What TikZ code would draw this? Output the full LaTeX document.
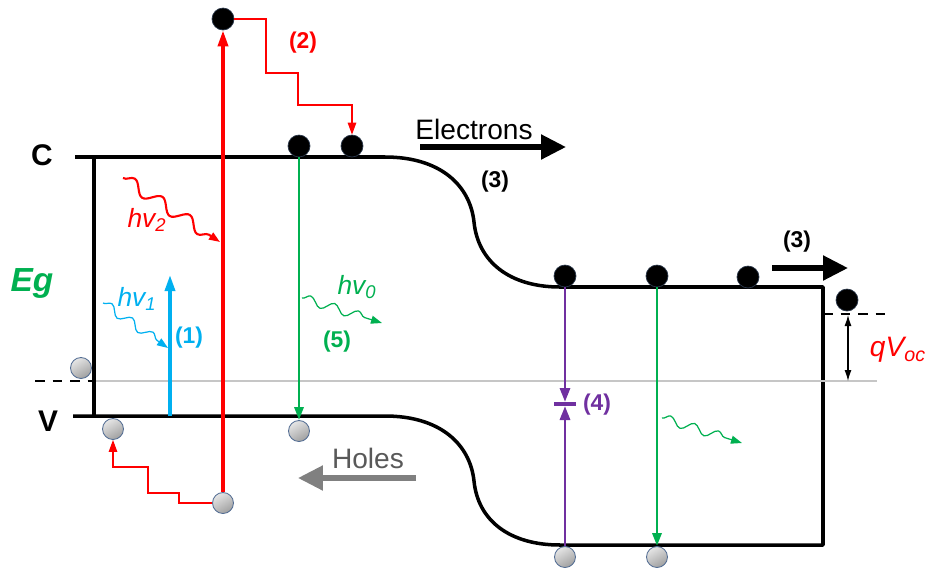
\documentclass[tikz,border=0pt]{standalone}
\usepackage{fontspec}
\setmainfont{Liberation Sans}
\usetikzlibrary{arrows.meta,decorations.pathmorphing}
\definecolor{pvred}{RGB}{255,0,0}
\definecolor{pvblue}{RGB}{0,176,240}
\definecolor{pvgreen}{RGB}{0,176,80}
\definecolor{pvpurple}{RGB}{112,48,160}
\definecolor{pvrim}{RGB}{84,110,148}
\begin{document}
\begin{tikzpicture}[x=0.02cm,y=-0.02cm,>=Latex,
  el/.style={circle,fill=black,draw=pvrim!50!black,line width=0.4pt,minimum size=0.44cm,inner sep=0pt},
  ho/.style={circle,top color=gray!20,bottom color=gray!75,shading angle=30,draw=pvrim,line width=0.5pt,minimum size=0.42cm,inner sep=0pt},
  band/.style={line width=2pt,line join=round},
  fermi/.style={line width=1.4pt,dash pattern=on 5.5pt off 4.5pt},
  hop/.style={pvred,line width=0.7pt,-{Triangle[length=0.24cm,width=0.17cm]}},
  wave/.style={line width=0.7pt,decorate,decoration={snake,segment length=0.5cm,amplitude=0.09cm,post length=0.25cm},-{Triangle[length=0.22cm,width=0.16cm]}},
  big/.style={line width=3pt,-{Triangle[length=0.5cm,width=0.48cm]}},
  lab/.style={font=\fontsize{13}{15}\selectfont\bfseries},
  hv/.style={font=\fontsize{15}{17}\selectfont\itshape}]
\useasboundingbox (0,0) rectangle (931,569);
% band edges
\draw[band] (75,157) -- (385,157) .. controls (440,157) and (470,185) .. (474,222)
  .. controls (478,262) and (510,287) .. (560,287) -- (823,287) -- (823,545) -- (560,545)
  .. controls (510,545) and (478,521) .. (474,481) .. controls (470,444) and (440,416) .. (385,416) -- (73,416);
\draw[band] (94,157) -- (94,416);
\draw[gray!45,line width=0.7pt] (96,381) -- (877,381);
\draw[fermi] (35,381) -- (96,381);
\draw[fermi] (823,314) -- (887,314);
\node[font=\fontsize{17}{19}\selectfont\bfseries] (C) at (42,155) {C};
\node[font=\fontsize{17}{19}\selectfont\bfseries] (V) at (48,421) {V};
\node[font=\fontsize{19}{21}\selectfont\bfseries\itshape,pvgreen] (Eg) at (32,283) {Eg};
% electrons and holes
\node[el] (e0) at (223,19) {};
\node[el] (e1) at (299,146) {};
\node[el] (e2) at (352,146) {};
\node[el] (e3) at (565,276) {};
\node[el] (e4) at (657,276) {};
\node[el] (e5) at (748,277) {};
\node[el] (e6) at (847,300) {};
\node[ho] (h0) at (81,368) {};
\node[ho] (h1) at (113,429) {};
\node[ho] (h2) at (223,503) {};
\node[ho] (h3) at (299,431) {};
\node[ho] (h4) at (565,557) {};
\node[ho] (h5) at (657,557) {};
% (2) excitation and thermalisation
\draw[pvred,line width=2pt,-{Triangle[length=0.32cm,width=0.2cm]}] (h2) -- (e0);
\draw[hop] (e0.east) -- (266,19) |- (298,73) |- (352,105) -- (e2.north);
\draw[hop] (h2.west) -- (179,503) |- (148,493) |- (113,467) -- (h1.south);
\draw[wave,pvred,line width=1.2pt,decoration={segment length=0.66cm,amplitude=0.12cm}] (123,178) -- (220,242);
\node[hv,pvred] (hv2) at (147,220) {hv\textsubscript{2}};
\node[lab,pvred] (l2) at (303,43) {(2)};
% (1)
\coordinate (b0) at (170,416); \coordinate (b1) at (170,275);
\draw[pvblue,line width=2pt,-{Triangle[length=0.32cm,width=0.2cm]}] (b0) -- (b1);
\draw[wave,pvblue] (103,303) -- (168,348);
\node[hv,pvblue] (hv1) at (137,299) {hv\textsubscript{1}};
\node[lab,pvblue] (l1) at (189,338) {(1)};
% (5)
\draw[pvgreen,line width=1.7pt,-{Triangle[length=0.26cm,width=0.18cm]}] (e1.south) -- (h3.north);
\draw[wave,pvgreen] (302,298) -- (382,323);
\node[hv,pvgreen] (hv0) at (357,287) {hv\textsubscript{0}};
\node[lab,pvgreen] (l5) at (337,342) {(5)};
% (4)
\coordinate (p4a) at (565,402); \coordinate (p4b) at (565,406);
\draw[pvpurple,line width=1.7pt,-{Triangle[length=0.28cm,width=0.2cm]}] (e3.south) -- (p4a);
\draw[pvpurple,line width=1.7pt,-{Triangle[length=0.28cm,width=0.2cm]}] (h4.north) -- (p4b);
\draw[pvpurple,line width=1.9pt] (554,404) -- (576,404);
\node[lab,pvpurple] (l4) at (597,405) {(4)};
\draw[pvgreen,line width=1.7pt,-{Triangle[length=0.26cm,width=0.18cm]}] (e4.south) -- (h5.north);
\draw[wave,pvgreen] (662,418) -- (742,443);
% (3) transport
\node[font=\fontsize{16}{18}\selectfont] (elec) at (474,129) {Electrons};
\coordinate (ea) at (420,147); \coordinate (eb) at (566,147);
\draw[big] (ea) -- (eb);
\node[lab] (l3a) at (495,182) {(3)};
\coordinate (ra) at (772,268); \coordinate (rb) at (848,268);
\draw[big] (ra) -- (rb);
\node[lab] (l3b) at (797,242) {(3)};
\node[font=\fontsize{16}{18}\selectfont,text=black!65] (holes) at (368,458) {Holes};
\coordinate (ha) at (416,478); \coordinate (hb) at (298,478);
\draw[big,gray] (ha) -- (hb);
% open-circuit voltage
\coordinate (q0) at (848,315); \coordinate (q1) at (848,381);
\draw[{Latex[length=0.22cm,width=0.14cm]}-{Latex[length=0.22cm,width=0.14cm]},line width=0.7pt] (q0) -- (q1);
\node[font=\fontsize{16}{18}\selectfont\itshape,pvred] (qv) at (898,350) {qV\textsubscript{oc}};
\end{tikzpicture}
\end{document}
